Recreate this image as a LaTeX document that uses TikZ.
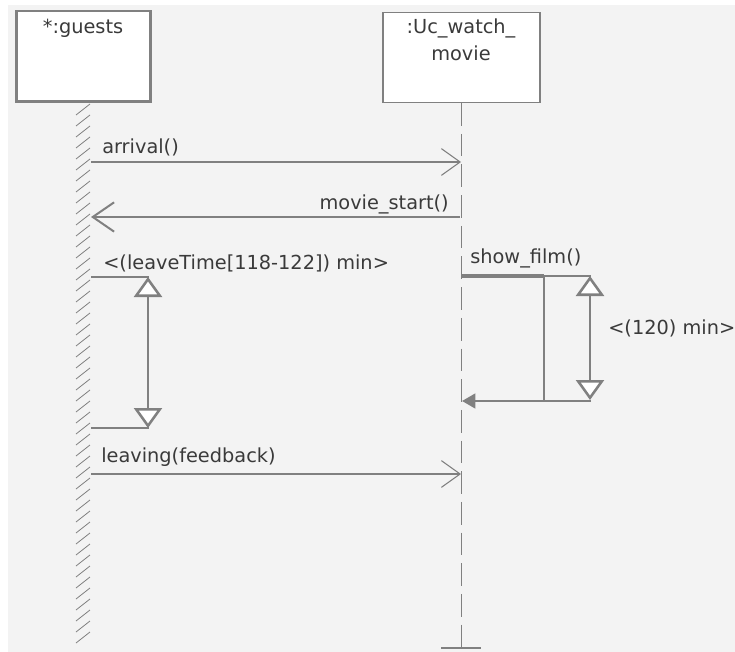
\documentclass[tikz,border=0pt]{standalone}
\usepackage{fontspec}
\setmainfont{DejaVu Sans}
\usetikzlibrary{arrows.meta}
\definecolor{lineColor}{RGB}{128,128,128}
\definecolor{textColor}{RGB}{58,58,58}
\definecolor{paperColor}{RGB}{243,243,243}

\begin{document}
\begin{tikzpicture}[x=0.75pt,y=-0.75pt]

          \tikzstyle{lbl} = [textColor, inner sep=0pt, font=\fontsize{14.5}{20}\selectfont];
          \tikzstyle{objBox} = [draw=lineColor, fill=white, inner sep=0pt];
          \tikzstyle{thinEdge} = [lineColor, line width=0.8pt];
          \tikzstyle{thickEdge} = [lineColor, line width=1.9pt];
          \tikzstyle{hatchEdge} = [lineColor, line width=0.6pt];
          \tikzstyle{lifeEdge} = [thinEdge, dash pattern=on 17pt off 6pt];
          \tikzstyle{callEdge} = [thinEdge, -{Straight Barb[length=14pt,width=20pt]}];
          \tikzstyle{replyEdge} = [lineColor, line width=1.5pt, -{Straight Barb[length=16pt,width=22pt]}];
          \tikzstyle{returnEdge} = [thickEdge, -{Triangle[length=10pt,width=11pt]}];
          \tikzstyle{durEdge} = [thickEdge, {Triangle[fill=white,length=15pt,width=21pt]}-{Triangle[fill=white,length=15pt,width=21pt]}];

          \useasboundingbox (0,0) rectangle (735,652);
          \fill[paperColor] (8,5) rectangle (735,652);

          \node[objBox, line width=2pt, minimum width=100.5pt, minimum height=68pt] (guests) at (83.5,56.5) {};
          \node[objBox, line width=1pt, minimum width=117.75pt, minimum height=67.5pt] (uc) at (461.5,57.5) {};
          \node[lbl, anchor=base] (guestsName) at (83,34) {*:guests};
          \node[lbl, anchor=base] (ucName) at (461,34) {:Uc\_watch\_};
          \node[lbl, anchor=base] (ucNameBis) at (461,61) {movie};

          \foreach \y in {104,115,...,638}
            \draw[hatchEdge] (76,\y+11) -- (90,\y);

          \coordinate (ucEnd) at (461.5,648);
          \coordinate (tickL) at (441,648);
          \coordinate (tickR) at (481,648);
          \draw[lifeEdge] (uc.south) -- (ucEnd);
          \draw[thinEdge] (tickL) -- (tickR);

          \coordinate (arrivalFrom) at (91,162);
          \coordinate (arrivalTo) at (461,162);
          \draw[callEdge] (arrivalFrom) -- (arrivalTo);
          \node[lbl, anchor=base west] (arrivalLbl) at (102,154) {arrival()};

          \coordinate (startFrom) at (460,217);
          \coordinate (startTo) at (91,217);
          \draw[replyEdge] (startFrom) -- (startTo);
          \node[lbl, anchor=base east] (startLbl) at (449,210) {movie\_start()};

          \coordinate (leaveTop) at (91,277);
          \coordinate (leaveTopR) at (149,277);
          \coordinate (leaveBot) at (91,428);
          \coordinate (leaveBotR) at (149,428);
          \coordinate (leaveUp) at (148,277);
          \coordinate (leaveDown) at (148,428);
          \draw[thickEdge] (leaveTop) -- (leaveTopR);
          \draw[thickEdge] (leaveBot) -- (leaveBotR);
          \draw[durEdge] (leaveUp) -- (leaveDown);
          \node[lbl, anchor=base west] (leaveLbl) at (103,270) {<(leaveTime[118-122]) min>};

          \coordinate (filmFrom) at (462,276);
          \coordinate (filmSplit) at (544,276);
          \coordinate (filmTopR) at (591,276);
          \coordinate (filmSplitBot) at (544,401);
          \coordinate (filmBotR) at (591,401);
          \coordinate (filmBack) at (462,401);
          \coordinate (filmUp) at (590,276);
          \coordinate (filmDown) at (590,400);
          \draw[thickEdge, line width=2.4pt] (filmFrom) -- (filmSplit);
          \draw[thickEdge] (filmSplit) -- (filmTopR);
          \draw[thickEdge] (filmSplit) -- (filmSplitBot);
          \draw[returnEdge] (filmBotR) -- (filmBack);
          \draw[durEdge] (filmUp) -- (filmDown);
          \node[lbl, anchor=base west] (filmLbl) at (470,263) {show\_film()};
          \node[lbl, anchor=base west] (filmTimeLbl) at (608,334) {<(120) min>};

          \coordinate (leavingFrom) at (91,474);
          \coordinate (leavingTo) at (461,474);
          \draw[callEdge] (leavingFrom) -- (leavingTo);
          \node[lbl, anchor=base west] (leavingLbl) at (101,462) {leaving(feedback)};
        \end{tikzpicture}
\end{document}
